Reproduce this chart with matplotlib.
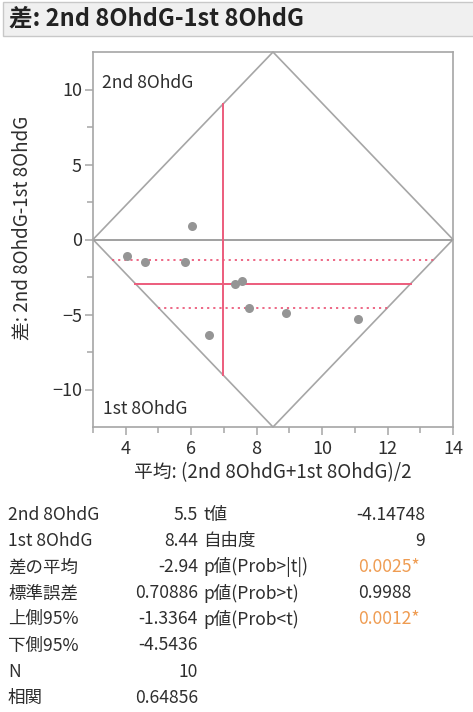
import numpy as np
import matplotlib.pyplot as plt
from matplotlib.patches import Rectangle

plt.rcParams['font.family'] = ['Noto Sans CJK JP', 'DejaVu Sans']

# points: mean of pair, difference (2nd - 1st)
pair_mean = [4.03, 4.59, 5.81, 6.04, 6.55, 7.34, 7.56, 7.77, 8.91, 11.10]
pair_diff = [-1.13, -1.47, -1.47, 0.89, -6.36, -2.95, -2.75, -4.58, -4.87, -5.29]

mean_2nd = 5.5
mean_1st = 8.44
diff_mean = -2.94
diff_upper = -1.3364
diff_lower = -4.5436

title = "差: 2nd 8OhdG-1st 8OhdG"
xlab = "平均: (2nd 8OhdG+1st 8OhdG)/2"

left_labels = ["2nd 8OhdG", "1st 8OhdG", "差の平均", "標準誤差", "上側95%", "下側95%", "N", "相関"]
left_values = ["5.5", "8.44", "-2.94", "0.70886", "-1.3364", "-4.5436", "10", "0.64856"]
right_labels = ["t値", "自由度", "p値(Prob>|t|)", "p値(Prob>t)", "p値(Prob<t)"]
right_values = ["-4.14748", "9", "0.0025*", "0.9988", "0.0012*"]
right_signif = [False, False, True, False, True]

W, H = 473, 712
fig = plt.figure(figsize=(W / 100, H / 100), dpi=100)

GRAY = '#a6a6a6'
RED = '#ec5c7c'
TXT = '#2e2e2e'
ORANGE = '#ef9c52'
FS = 12.6

# title bar
fig.patches.append(Rectangle((3 / W, 1 - 36 / H), 1.0, 34 / H, transform=fig.transFigure,
                             facecolor='#f0f0f0', edgecolor='#c8c8c8', lw=1))
fig.text(9 / W, 1 - 19 / H, title, fontsize=17, fontweight='bold', color='#222222',
         va='center', ha='left')

ax = fig.add_axes([93 / W, 1 - 427 / H, 360 / W, 375 / H])
x0, x1 = 3, 14
y0, y1 = -12.5, 12.5
ax.set_xlim(x0, x1)
ax.set_ylim(y0, y1)
xc = (x0 + x1) / 2
hw = (x1 - x0) / 2
hh = (y1 - y0) / 2

# diamond of the original axes
ax.plot([x0, xc, x1, xc, x0], [0, y1, 0, y0, 0], color=GRAY, lw=1.2, clip_on=False, zorder=2)
ax.axhline(0, color='#999999', lw=1.3, zorder=2)

# mean difference and confidence lines, clipped to the diamond
def span(d):
    w = hw * (1 - abs(d) / hh)
    return xc - w, xc + w

a, b = span(diff_mean)
ax.plot([a, b], [diff_mean, diff_mean], color=RED, lw=1.4, zorder=3)
for d in (diff_upper, diff_lower):
    a, b = span(d)
    ax.plot([a, b], [d, d], color=RED, lw=1.3, ls=(0, (1.2, 2.2)), zorder=3)

mm = (mean_2nd + mean_1st) / 2
h = hh * (1 - abs(mm - xc) / hw)
ax.plot([mm, mm], [-h, h], color=RED, lw=1.4, zorder=3)

ax.plot(pair_mean, pair_diff, 'o', color='#959595', ms=6.5, mec='none', zorder=4)

ax.text(3.27, 10.4, "2nd 8OhdG", fontsize=FS, color=TXT, va='center', ha='left')
ax.text(3.3, -11.3, "1st 8OhdG", fontsize=FS, color=TXT, va='center', ha='left')

ax.set_xticks(np.arange(4, 15, 2))
ax.set_xticks(np.arange(3, 15, 1), minor=True)
ax.set_yticks([-10, -5, 0, 5, 10])
ax.set_yticks([-7.5, -2.5, 2.5, 7.5], minor=True)
for s in ax.spines.values():
    s.set_color(GRAY)
    s.set_linewidth(1.2)
ax.tick_params(which='both', direction='out', color=GRAY, width=1.1, labelcolor=TXT, labelsize=13)
ax.tick_params(which='major', length=6)
ax.tick_params(which='minor', length=4)
ax.tick_params(axis='x', pad=3)
ax.tick_params(axis='y', pad=2)

ax.set_xlabel(xlab, fontsize=13.5, color=TXT, labelpad=3)
ax.set_ylabel(title, fontsize=13.5, color=TXT)
ax.yaxis.set_label_coords(-60 / 360, 0.53)

# statistics table
row_y = [515 + 26.1 * i for i in range(len(left_labels))]
for i in range(len(left_labels)):
    yy = 1 - row_y[i] / H
    fig.text(8 / W, yy, left_labels[i], fontsize=FS, color=TXT, va='center', ha='left')
    fig.text(198 / W, yy, left_values[i], fontsize=FS, color=TXT, va='center', ha='right')
for i in range(len(right_labels)):
    yy = 1 - row_y[i] / H
    fig.text(203 / W, yy, right_labels[i], fontsize=FS, color=TXT, va='center', ha='left')
    v = right_values[i]
    if v.startswith('-') or '.' not in v:
        fig.text(425 / W, yy, v, fontsize=FS, color=TXT, va='center', ha='right')
    else:
        fig.text(358 / W, yy, v, fontsize=FS, color=ORANGE if right_signif[i] else TXT,
                 va='center', ha='left')

fig.savefig('out.png', dpi=100)
